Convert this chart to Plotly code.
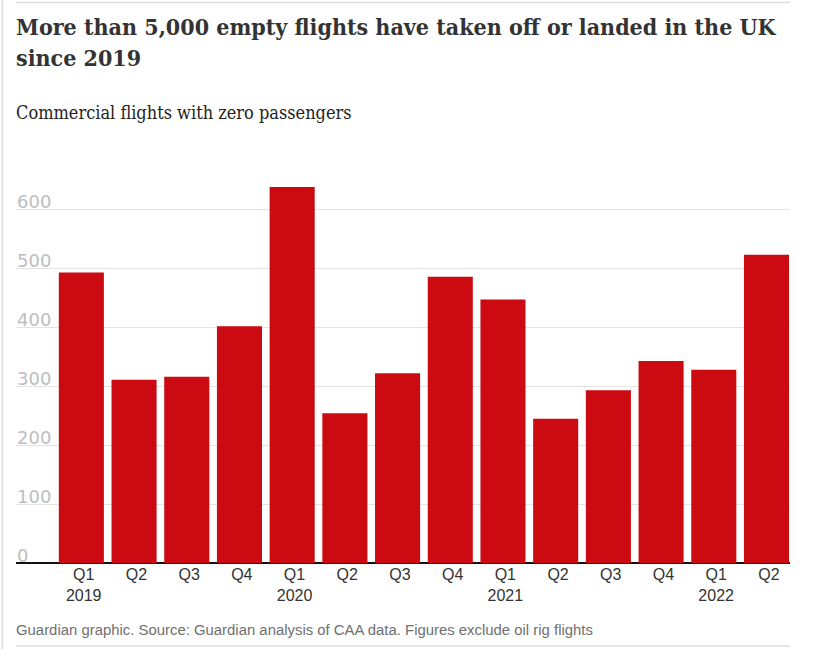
import plotly.graph_objects as go

quarters = ["Q1","Q2","Q3","Q4","Q1","Q2","Q3","Q4","Q1","Q2","Q3","Q4","Q1","Q2"]
years = ["2019","","","","2020","","","","2021","","","","2022",""]
values = [493,311,316,402,638,254,322,486,447,245,293,343,328,523]
tick_vals = [0,100,200,300,400,500,600]

W, H = 822, 649
L, R, T, B = 16, 790, 180, 563
ymax = 650

x = list(range(len(values)))
labels = [q + ("<br>" + y if y else "") for q, y in zip(quarters, years)]

fig = go.Figure(go.Bar(x=x, y=values, marker=dict(color="#cb0a11", line=dict(width=0)), width=0.855, hoverinfo="y"))

fig.update_layout(
    width=W, height=H, autosize=False, paper_bgcolor="white", plot_bgcolor="white",
    margin=dict(l=L, r=W - R, t=T, b=H - B), showlegend=False,
    xaxis=dict(range=[-1.24, 13.446], tickmode="array", tickvals=[i + 0.045 for i in x], ticktext=labels, showgrid=False,
               showline=False, zeroline=False, ticks="", tickangle=0,
               tickfont=dict(size=16, family="Liberation Sans", color="#333333")),
    yaxis=dict(range=[0, ymax], tickmode="array", tickvals=tick_vals, showticklabels=False, gridcolor="#e3e3e3",
               gridwidth=1, zeroline=True, zerolinecolor="#121212", zerolinewidth=2, showline=False, ticks=""),
)

for v in tick_vals:
    fig.add_annotation(xref="paper", yref="y", x=0, y=v, xanchor="left", yanchor="bottom", text=str(v), showarrow=False,
                       font=dict(size=18, family="DejaVu Sans", color="#bdbdbd"), xshift=-1, yshift=-5)

def txt(text, x, y, size, color="#333333", family="Liberation Serif", bold=False):
    fig.add_annotation(xref="paper", yref="paper", x=(x - L) / (R - L), y=(B - y) / (B - T), xanchor="left", yanchor="middle",
                       text=f"<b>{text}</b>" if bold else text, showarrow=False, align="left",
                       font=dict(size=size, family=family, color=color), xshift=-2)

txt("More than 5,000 empty flights have taken off or landed in the UK", 16, 26, 23, bold=True, family="DejaVu Serif Condensed")
txt("since 2019", 16, 57, 23, bold=True, family="DejaVu Serif Condensed")
txt("Commercial flights with zero passengers", 16, 113, 18, family="DejaVu Serif Condensed", color="#222222")
txt("Guardian graphic. Source: Guardian analysis of CAA data. Figures exclude oil rig flights", 16, 630, 14.9, color="#707070", family="Liberation Sans")

# page frame rules of the original article embed
frame = dict(type="line", xref="paper", yref="paper", line=dict(color="#dcdcdc", width=1.5), layer="below")
def px(xp): return (xp - L) / (R - L)
def py(yp): return (B - yp) / (B - T)
fig.add_shape(x0=px(2.5), x1=px(2.5), y0=py(0), y1=py(649), **frame)
fig.add_shape(x0=px(16), x1=px(790), y0=py(2.5), y1=py(2.5), **frame)
fig.add_shape(x0=px(16), x1=px(790), y0=py(646), y1=py(646), **frame)

fig.write_html("out.html", post_script="document.body.style.margin='0';", config={"displayModeBar": False})
